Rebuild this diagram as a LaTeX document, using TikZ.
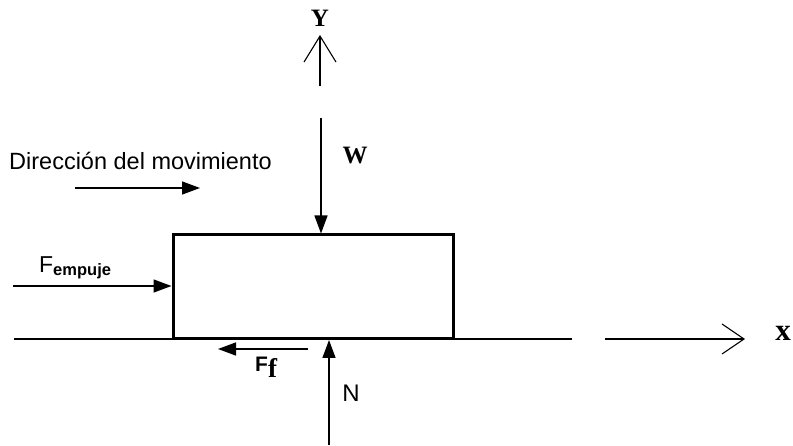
\documentclass[tikz,border=0pt]{standalone}
\usepackage{fontspec}
\setmainfont{Liberation Serif}
\setsansfont{Liberation Sans}
\usetikzlibrary{arrows.meta}
\tikzset{
  shaft/.style={line width=1.4pt},
  filled/.style={shaft,-{Triangle[length=18pt,width=13pt]}},
  openarr/.style={line width=1.1pt,-{Straight Barb[length=22pt,width=30pt,line width=1.1pt]}},
  sanslbl/.style={font=\sffamily\fontsize{23.5}{28}\selectfont,inner sep=0pt},
  seriflbl/.style={font=\rmfamily\bfseries\fontsize{25}{28}\selectfont,inner sep=0pt},
}
\begin{document}
\begin{tikzpicture}[x=1pt,y=-1pt]
\useasboundingbox (0,0) rectangle (793,446);
% block
\node[draw,line width=3pt,minimum width=280pt,minimum height=104pt,inner sep=0pt,anchor=north west] (box) at (171.5,233.5) {};
% ground
\coordinate (g1) at (14,339);
\coordinate (g2) at (572,339);
\draw[line width=2pt] (g1) -- (g2);
% x axis
\coordinate (xa) at (605,339);
\coordinate (xb) at (745,339);
\draw[openarr] (xa) -- (xb);
\node[font=\rmfamily\bfseries\fontsize{31}{34}\selectfont,inner sep=0pt] (xl) at (783,333) {x};
% y axis
\coordinate (ya) at (320,86);
\coordinate (yb) at (320,35);
\draw[line width=1.1pt,-{Straight Barb[length=26pt,width=32pt,line width=1.1pt]}] (ya) -- (yb);
\node[seriflbl] (yl) at (320,18) {Y};
% W
\coordinate (wa) at (321,118);
\draw[filled] (wa) -- (box.north -| wa);
\node[seriflbl] (wl) at (355,156) {W};
% direction
\node[sanslbl,anchor=west] (dir) at (9,161) {Dirección del movimiento};
\coordinate (da) at (75,188);
\coordinate (db) at (200,188);
\draw[filled] (da) -- (db);
% F empuje
\coordinate (fa) at (13,286);
\draw[filled] (fa) -- (box.west |- fa);
\node[anchor=base west,inner sep=0pt] (fel) at (39,273) {\sffamily\fontsize{23}{26}\selectfont F\fontsize{16.5}{18}\selectfont\bfseries\raisebox{-3pt}{empuje}};
% F f
\coordinate (ffa) at (308,349);
\coordinate (ffb) at (218,349);
\draw[filled] (ffa) -- (ffb);
\node[anchor=base west,inner sep=0pt] (ffl) at (255,372) {\sffamily\bfseries\fontsize{21}{24}\selectfont F\rmfamily\fontsize{27}{30}\selectfont\raisebox{-6pt}{f}};
% N
\coordinate (na) at (329,445);
\coordinate (nb) at (329,340);
\draw[filled] (na) -- (nb);
\node[sanslbl,font=\sffamily\fontsize{24}{28}\selectfont] (nl) at (351,393) {N};
\end{tikzpicture}
\end{document}
